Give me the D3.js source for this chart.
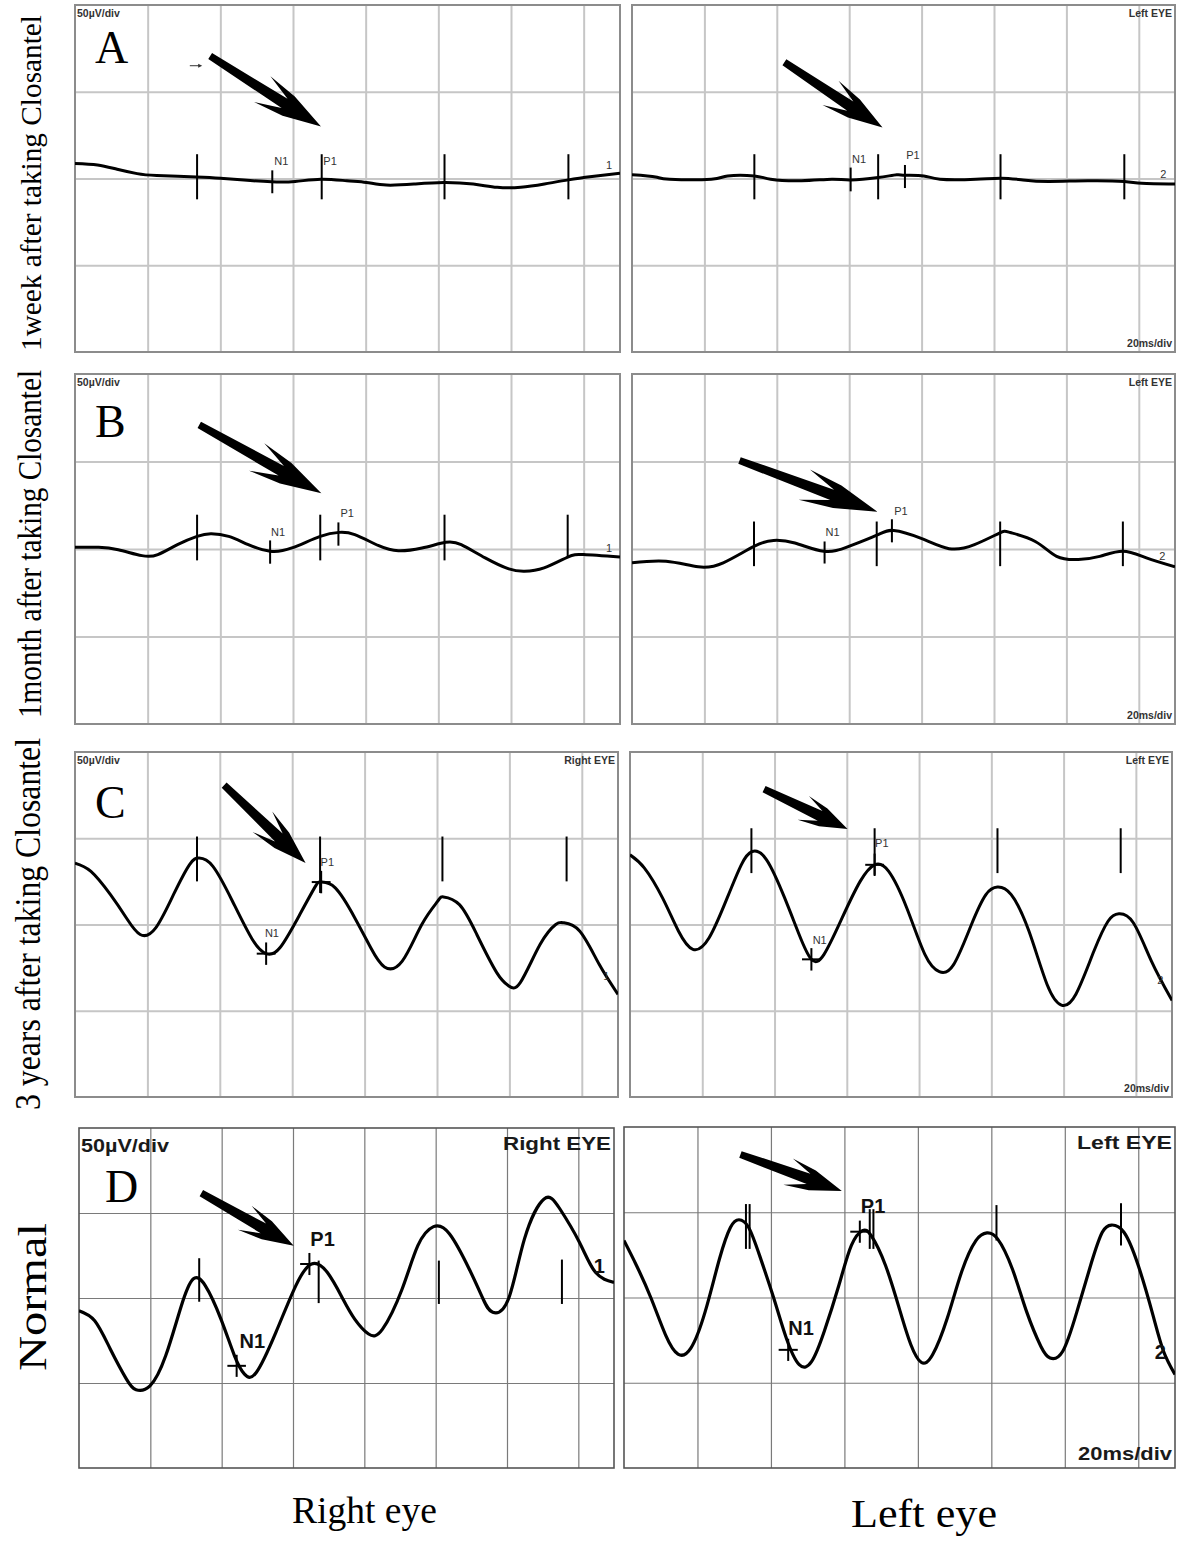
<!DOCTYPE html>
<html><head><meta charset="utf-8">
<script src="https://cdn.jsdelivr.net/npm/d3@7"></script>
<style>body{margin:0;background:#fff}svg{display:block}</style>
</head><body>
<svg id="c" width="1181" height="1545"></svg>
<script>
// ---------- DATA (time in ms, amplitude in µV) ----------
const gridMs = [20, 40, 60, 80, 100, 120, 140];
const gridUv = [-50, 0, 50];
const rowTitles = ["1week after taking Closantel", "1month after taking Closantel", "3 years after taking Closantel", "Normal"];
const columnTitles = ["Right eye", "Left eye"];
const panelLetters = ["A", "B", "C", "D"];

// Row A : 1 week
const traceA_RE = [[0,8.7],[6.2,7.8],[11.6,5.3],[17.1,2.8],[22.5,1.7],[33.4,0.9],[40,0.2],[46.5,-0.9],[54.1,-1.9],[60.6,-1.7],[67.7,-0.4],[74.8,-1.3],[80.2,-2.3],[85.7,-3.8],[93.3,-3.2],[101.5,-2.3],[109.6,-3.2],[116.2,-5.1],[122.7,-5.1],[129.2,-3.2],[135.8,-0.8],[142.3,1.1],[150,3.0]];
const ticksA_RE = [[33.6,14,-12],[67.9,14,-12],[101.7,14,-12],[135.8,14,-12],[54.3,4.7,-8.5]];
const labelsA_RE = [["N1",56.8,10],["P1",70.2,10],["1",147,8]];
const arrowA_RE = [37.2,70.6,67.7,29.9];
const tinyArrowA_RE = [31.6,65,35,65];

const traceA_LE = [[0,2.1],[6.5,0.9],[10.4,-0.4],[21.9,-0.4],[26.4,1.5],[33.8,1.5],[38.3,-0.4],[46.8,-1.3],[55.2,-0.4],[60.4,-0.8],[68,0.6],[73.1,2.1],[75.4,1.9],[80.6,1.5],[85.1,-0.4],[95,-0.4],[102,0.2],[108,-0.8],[115,-1.7],[125.9,-1.3],[136,-1.7],[140.8,-2.8],[150,-3.2]];
const ticksA_LE = [[33.8,14,-12],[68,14,-12],[101.8,14,-12],[136,14,-12],[60.4,6.3,-7.4],[75.4,7.8,-5.5]];
const labelsA_LE = [["N1",62.7,11],["P1",77.6,13.5],["2",146.8,2.5]];
const arrowA_LE = [42.1,67,69.2,29.4];

// Row B : 1 month
const traceB_RE = [[0,1.0],[6.5,1.0],[11.9,-0.4],[18.4,-3.8],[22.8,-3.2],[28.2,2.5],[33.6,7.2],[37.4,8.7],[42.3,7.2],[47.7,2.5],[53.7,-1.3],[59.7,0.6],[67.5,7.2],[72.7,9.5],[77,8.2],[83.6,1.9],[89,-1.0],[95.5,0.6],[102,3.8],[106.3,2.5],[112.9,-5.1],[119.4,-11.4],[123.7,-12.7],[129.1,-10.8],[135.6,-4.6],[140,-3.2],[150,-4.6]];
const ticksB_RE = [[33.6,19.6,-6.5],[67.5,19.6,-6.5],[101.7,19.6,-6.5],[135.6,19.6,-4.2],[53.7,4.9,-8.4],[72.5,15.2,1.9]];
const labelsB_RE = [["N1",55.9,10],["P1",74.9,20.5],["1",147,0.6]];
const arrowB_RE = [34.2,70.9,67.8,31.9];

const traceB_LE = [[0,-7.9],[9.4,-7.0],[18.3,-10.2],[25.2,-7.9],[33.7,1.5],[39.1,4.9],[45,3.4],[53,-1.3],[59.9,1.5],[67.8,8.1],[72.3,10.6],[79.7,6.2],[87.6,0.2],[94.6,2.5],[101.5,9.1],[104.5,9.4],[111.4,4.3],[117.3,-4.2],[123.3,-6.0],[129.2,-4.2],[135.6,-1.3],[142.1,-5.1],[150,-10.2]];
const ticksB_LE = [[33.7,15.7,-9.8],[67.6,15.7,-9.8],[101.7,15.7,-9.8],[135.6,15.7,-9.8],[53.2,4.3,-8.3],[71.8,17,3.8]];
const labelsB_LE = [["N1",55.4,10],["P1",74.3,22],["2",146.5,-4]];
const arrowB_LE = [29.7,50.6,67.8,21.3];

// Row C : 3 years
const traceC_RE = [[0,35.6],[4.4,30.8],[9.8,17.3],[14.2,3.8],[18,-5.8],[22.3,-1.9],[27.2,17.3],[31.6,34.6],[34.3,38.5],[38.1,33.7],[43.5,13.5],[49,-8.7],[52.8,-16.9],[56.6,-13.5],[62.1,5.8],[66.4,22.1],[68,24.6],[71.9,21.2],[77.3,3.8],[81.7,-13.5],[85.5,-24.6],[90.4,-21.2],[95.8,0],[100.2,13.5],[101.8,16],[106.2,11.5],[111,-5.8],[116.5,-27.9],[119.8,-35.6],[123,-33.7],[128.5,-11.5],[132.8,0],[135,1],[139.4,-3.8],[144.8,-23.1],[150,-40.5]];
const ticksC_RE = [[33.7,51,25],[67.7,51,18.3],[101.5,51,25],[135.8,51,25]];
const crossesC_RE = [[52.8,-16.9],[68,24.6]];
const labelsC_RE = [["P1",69.7,36.5],["N1",54.4,-4.8],["1",146.8,-29.8]];
const arrowC_RE = [41.2,80.8,63.7,35.6];

const traceC_LE = [[0,40.4],[4,32.7],[9,15.4],[13.4,-3.8],[17.4,-14.4],[21.9,-7.7],[26.9,15.4],[30.8,34.6],[33.8,42.3],[37.8,37.5],[42.8,15.4],[46.8,-5.8],[50.2,-20.2],[53.7,-17.3],[58.7,3.8],[63.7,25],[67.7,34.6],[71.6,30.8],[76.6,9.6],[81.6,-17.3],[85.6,-27.3],[89.6,-23.1],[94.5,0],[98.5,17.3],[101.7,21.7],[105.5,17.3],[110.4,-3.8],[115.4,-34.6],[119.4,-46.7],[123.4,-40.4],[128.4,-15.4],[132.3,1.9],[135.3,6.2],[139.3,1],[144.3,-21.2],[150,-44]];
const ticksC_LE = [[33.6,55.8,29.8],[67.7,55.8,28.8],[101.7,55.8,29.8],[135.8,55.8,29.8]];
const crossesC_LE = [[50.2,-20.2],[67.7,34.6]];
const labelsC_LE = [["P1",69.7,47],["N1",52.5,-8.7],["2",146.8,-32.3]];
const arrowC_LE = [37.1,78.5,60.2,55.4];

// Row D : Normal
const traceD_RE = [[0,-7.5],[4.4,-13.4],[8.8,-30.1],[13.3,-47.7],[16,-54],[19.9,-51.7],[24.3,-34],[28.7,-4.5],[32,11.2],[35.4,7.3],[39.8,-12.4],[43.6,-34],[46.4,-44.8],[49.7,-43.8],[55.2,-20.2],[60.8,7.3],[65.2,20],[69.6,15.1],[74,-0.6],[77.3,-12.4],[81.2,-21.2],[85.1,-18.3],[90.6,5.3],[95,30.8],[99.4,42],[103.9,37.7],[109.4,17.1],[113.3,-0.6],[116,-8.4],[120.4,-0.6],[124.9,34.8],[130.4,58.3],[134.8,52.5],[140.3,32.8],[144.8,15.1],[150,9.2]];
const ticksD_RE = [[33.7,23.4,-2.2],[67.2,22,-3],[100.9,22,-3.5],[135.4,22.6,-3.5]];
const crossesD_RE = [[44.2,-39.9],[64.6,20]];
const labelsD_RE = [["P1",68.3,34.8],["N1",48.6,-25],["1",145.9,19]];
const arrowD_RE = [34.3,61.7,60.2,30.8];

const traceD_LE = [[0,33.4],[3.4,18.8],[7.4,-0.6],[11.3,-21.9],[14.7,-33.2],[18.2,-29.7],[22.1,-8.3],[26,22.7],[29,41.2],[31.3,45.6],[33.9,41.2],[36.9,24.7],[40.8,-0.6],[44.2,-23.9],[47.7,-39.4],[51.1,-37.5],[54.5,-20],[58.5,7.2],[61.9,30.5],[64.9,39.2],[67.3,36.3],[71.2,18.8],[75.2,-8.3],[78.1,-27.7],[80.9,-38],[84,-33.6],[88,-12.2],[91.9,15],[95.8,33.4],[98.8,37.9],[101.7,34.4],[105.7,16.9],[109.6,-8.3],[113.5,-28.7],[116,-35.5],[119.4,-31.7],[123.3,-8.3],[127.3,20.8],[130.2,38.3],[132.7,42.5],[136.1,38.3],[140,18.8],[144,-10.3],[146.9,-31.7],[150,-45.2]];
const ticksD_LE = [[33.2,54.8,28.5],[34.2,54.8,28.5],[66.9,51.8,28.5],[67.9,51.8,28.5],[101.4,54.2,33.4],[135.3,55.3,30.5]];
const crossesD_LE = [[44.7,-30.7],[64.2,38.6]];
const labelsD_LE = [["P1",67.8,53.8],["N1",48.2,-18],["2",146,-31.7]];
const arrowD_LE = [31.7,83.9,59.3,62.5];

// ---------- LAYOUT ----------
const panels = [
  {row:0, trace:traceA_RE, ticks:ticksA_RE, crosses:[], labels:labelsA_RE, arrow:arrowA_RE, tiny:tinyArrowA_RE, box:[75,5,620,352], scan:false, tl:"50µV/div", tr:null, br:null},
  {row:0, trace:traceA_LE, ticks:ticksA_LE, crosses:[], labels:labelsA_LE, arrow:arrowA_LE, box:[632,5,1175,352], scan:false, tl:null, tr:"Left EYE", br:"20ms/div"},
  {row:1, trace:traceB_RE, ticks:ticksB_RE, crosses:[], labels:labelsB_RE, arrow:arrowB_RE, box:[75,374,620,724], scan:false, tl:"50µV/div", tr:null, br:null},
  {row:1, trace:traceB_LE, ticks:ticksB_LE, crosses:[], labels:labelsB_LE, arrow:arrowB_LE, box:[632,374,1175,724], scan:false, tl:null, tr:"Left EYE", br:"20ms/div"},
  {row:2, trace:traceC_RE, ticks:ticksC_RE, crosses:crossesC_RE, labels:labelsC_RE, arrow:arrowC_RE, box:[75,752,618,1097], scan:false, tl:"50µV/div", tr:"Right EYE", br:null},
  {row:2, trace:traceC_LE, ticks:ticksC_LE, crosses:crossesC_LE, labels:labelsC_LE, arrow:arrowC_LE, box:[630,752,1172,1097], scan:false, tl:null, tr:"Left EYE", br:"20ms/div"},
  {row:3, trace:traceD_RE, ticks:ticksD_RE, crosses:crossesD_RE, labels:labelsD_RE, arrow:arrowD_RE, box:[79,1128,614,1468], scan:true, tl:"50µV/div", tr:"Right EYE", br:null},
  {row:3, trace:traceD_LE, ticks:ticksD_LE, crosses:crossesD_LE, labels:labelsD_LE, arrow:arrowD_LE, box:[624,1127,1175,1468], scan:true, tl:null, tr:"Left EYE", br:"20ms/div"}
];
const letterOffsets = [[20,58],[20,63],[20,66],[26,74]];

const svg = d3.select("#c");
const defs = svg.append("defs");
const SMALL = "'Liberation Sans Narrow','Liberation Sans',Arial,sans-serif";
const BOLD = "'Liberation Sans',Arial,sans-serif";
const SERIF = "'Liberation Serif','Times New Roman',serif";

panels.forEach((p, i) => {
  const [x0, y0, x1, y1] = p.box;
  const x = d3.scaleLinear().domain([0, 150]).range([x0, x1]);
  const y = d3.scaleLinear().domain([-100, 100]).range([y1, y0]);
  const g = svg.append("g");
  const gridColor = p.scan ? "#7a7a7a" : "#c6c6c6";
  const gridW = p.scan ? 1.2 : 2;

  // grid via axes
  const gx = g.append("g").attr("transform", `translate(0,${y1})`)
    .call(d3.axisBottom(x).tickValues(gridMs).tickSize(-(y1 - y0)).tickFormat(""));
  const gy = g.append("g").attr("transform", `translate(${x0},0)`)
    .call(d3.axisLeft(y).tickValues(gridUv).tickSize(-(x1 - x0)).tickFormat(""));
  [gx, gy].forEach(a => {
    a.select(".domain").remove();
    a.selectAll("line").attr("stroke", gridColor).attr("stroke-width", gridW);
  });
  g.append("rect").attr("x", x0).attr("y", y0).attr("width", x1 - x0).attr("height", y1 - y0)
    .attr("fill", "none").attr("stroke", p.scan ? "#555" : "#8c8c8c").attr("stroke-width", p.scan ? 1.6 : 2);

  // clip
  const cid = "clip" + i;
  defs.append("clipPath").attr("id", cid).append("rect")
    .attr("x", x0).attr("y", y0).attr("width", x1 - x0).attr("height", y1 - y0);

  // trace
  const line = d3.line().x(d => x(d[0])).y(d => y(d[1])).curve(d3.curveNatural);
  g.append("path").attr("d", line(p.trace)).attr("fill", "none")
    .attr("stroke", "#000").attr("stroke-width", p.scan ? 3.2 : 3)
    .attr("stroke-linejoin", "round").attr("clip-path", `url(#${cid})`);

  // vertical ticks
  g.selectAll(".tk").data(p.ticks).enter().append("line")
    .attr("x1", d => x(d[0])).attr("x2", d => x(d[0]))
    .attr("y1", d => y(d[1])).attr("y2", d => y(d[2]))
    .attr("stroke", "#000").attr("stroke-width", 2);

  // crosses
  p.crosses.forEach(c => {
    g.append("line").attr("x1", x(c[0] - 2.6)).attr("x2", x(c[0] + 2.6))
      .attr("y1", y(c[1])).attr("y2", y(c[1])).attr("stroke", "#000").attr("stroke-width", 2);
    g.append("line").attr("x1", x(c[0])).attr("x2", x(c[0]))
      .attr("y1", y(c[1] + 6.5)).attr("y2", y(c[1] - 6.5)).attr("stroke", "#000").attr("stroke-width", 2);
  });

  // labels
  g.selectAll(".lb").data(p.labels).enter().append("text")
    .attr("x", d => x(d[1])).attr("y", d => y(d[2]))
    .attr("text-anchor", "middle").attr("dominant-baseline", "central")
    .attr("font-family", p.scan ? BOLD : SMALL).attr("font-weight", p.scan ? "bold" : "normal")
    .attr("font-size", p.scan ? 20 : 11).attr("fill", p.scan ? "#111" : "#333")
    .text(d => d[0]);

  // corner texts
  const cornerSize = p.scan ? 19 : 10.5;
  const corner = (txt, tx, ty, anchor, len) => {
    const t = g.append("text").attr("x", tx).attr("y", ty).attr("text-anchor", anchor)
      .attr("font-family", p.scan ? BOLD : SMALL).attr("font-weight", "bold")
      .attr("font-size", cornerSize).attr("fill", p.scan ? "#1a1a1a" : "#333").text(txt);
    if (len) t.attr("textLength", len).attr("lengthAdjust", "spacingAndGlyphs");
  };
  if (p.tl) corner(p.tl, x0 + 2, y0 + (p.scan ? 24 : 12), "start", p.scan ? 88 : null);
  if (p.tr) corner(p.tr, x1 - 3, y0 + (p.scan ? 22 : 12), "end", p.scan ? (p.tr === "Right EYE" ? 108 : 95) : null);
  if (p.br) corner(p.br, x1 - 3, y1 - (p.scan ? 8 : 5), "end", p.scan ? 94 : null);

  // arrow: shaft + feathered head drawn as one polygon
  const a = p.arrow;
  const tx = x(a[0]), ty = y(a[1]), px = x(a[2]), py = y(a[3]);
  const dx = px - tx, dy = py - ty, len = Math.hypot(dx, dy);
  const ux = dx / len, uy = dy / len, nx = -uy, ny = ux;
  const L = 0.53 * len, W = 8 + 0.055 * len, S = 3.5;
  const pt = (al, pe) => [px + ux * al + nx * pe, py + uy * al + ny * pe];
  const shape = [pt(0, 0), pt(-0.55 * L, -0.75 * W), pt(-L, -W), pt(-0.62 * L, -(S + 2)), pt(-len, -S),
                 pt(-len, S), pt(-0.62 * L, S + 2), pt(-L, W), pt(-0.55 * L, 0.75 * W)];
  g.append("path").attr("d", d3.line()(shape) + "Z").attr("fill", "#000");

  if (p.tiny) {
    const t = p.tiny;
    g.append("line").attr("x1", x(t[0])).attr("y1", y(t[1])).attr("x2", x(t[2]) - 3).attr("y2", y(t[3]))
      .attr("stroke", "#333").attr("stroke-width", 1);
    g.append("path").attr("d", d3.line()([[x(t[2]), y(t[3])], [x(t[2]) - 4, y(t[3]) - 2], [x(t[2]) - 4, y(t[3]) + 2]]) + "Z").attr("fill", "#333");
  }

  // panel letter on right-eye panels
  if (p.tl) {
    const off = letterOffsets[p.row];
    g.append("text").attr("x", x0 + off[0]).attr("y", y0 + off[1])
      .attr("font-family", SERIF).attr("font-size", 46).attr("fill", "#000")
      .text(panelLetters[p.row]);
  }
});

// row titles (rotated)
const rowTitlePos = [[41, 183, 29, 336], [41, 544, 33, 348], [40, 924, 35, 372], [46, 1297, 41, 148]];
rowTitles.forEach((t, i) => {
  const [bx, cy, fs, tl] = rowTitlePos[i];
  svg.append("text").attr("transform", `translate(${bx},${cy}) rotate(-90)`)
    .attr("text-anchor", "middle").attr("font-family", SERIF).attr("font-size", fs)
    .attr("textLength", tl).attr("lengthAdjust", "spacingAndGlyphs").attr("fill", "#000").text(t);
});

// column titles
const colTitlePos = [[364.5, 1523, 37, 145], [924, 1527, 39, 146]];
columnTitles.forEach((t, i) => {
  const [cx, by, fs, tl] = colTitlePos[i];
  svg.append("text").attr("x", cx).attr("y", by).attr("text-anchor", "middle")
    .attr("font-family", SERIF).attr("font-size", fs)
    .attr("textLength", tl).attr("lengthAdjust", "spacingAndGlyphs").attr("fill", "#000").text(t);
});
</script>
</body></html>
